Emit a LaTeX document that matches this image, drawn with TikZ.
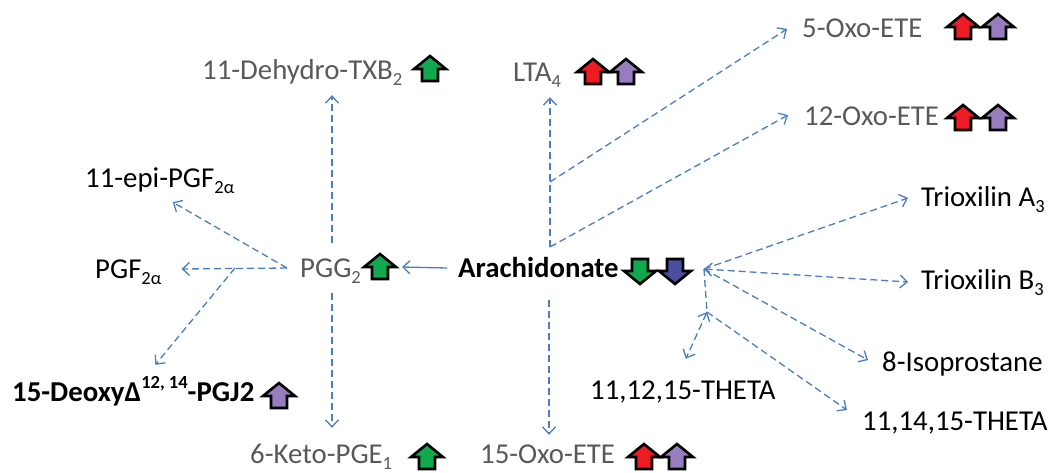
\documentclass[tikz,border=0pt]{standalone}
\usepackage{fontspec}
\setmainfont{Carlito}
\usepackage{tikz}
\usetikzlibrary{arrows.meta,calc}

\definecolor{linkblue}{RGB}{74,126,193}
\definecolor{txtgray}{RGB}{89,89,89}
\definecolor{upred}{RGB}{237,28,36}
\definecolor{uppurple}{RGB}{151,125,189}
\definecolor{upgreen}{RGB}{17,168,78}
\definecolor{downblue}{RGB}{75,78,158}

\newcommand{\fs}{\fontsize{28.8}{32}\selectfont}
\newcommand{\sbs}[1]{\raisebox{-0.22em}{\fontsize{18.5}{18.5}\selectfont #1}}
\newcommand{\sps}[1]{\raisebox{0.45em}{\fontsize{18.5}{18.5}\selectfont #1}}

\tikzset{
  lbl/.style={anchor=west,inner sep=0pt,text height=18pt,text depth=0pt,font=\fs},
  glbl/.style={lbl,text=txtgray},
  link/.style={draw=linkblue,line width=1.3pt,dash pattern=on 7pt off 4pt},
  flow/.style={link,-{Straight Barb[length=7pt,width=13pt]}},
  both/.style={link,{Straight Barb[length=7pt,width=13pt]}-{Straight Barb[length=7pt,width=13pt]}},
  feed/.style={draw=linkblue,line width=1.3pt,-{Straight Barb[length=7pt,width=13pt]}},
  icon/.style={draw=black,line width=2.6pt,line join=miter},
  upicon/.pic={\draw[icon,fill=#1] (-8,12) -- (8,12) -- (8,0) -- (16,0) -- (0,-13) -- (-16,0) -- (-8,0) -- cycle;},
  downicon/.pic={\draw[icon,fill=#1] (-8,-12) -- (8,-12) -- (8,0) -- (16,0) -- (0,13) -- (-16,0) -- (-8,0) -- cycle;}
}

\begin{document}
\begin{tikzpicture}[x=1pt,y=-1pt]
    \useasboundingbox (0,0) rectangle (1050,472);
    \node at (458,268) [lbl,font=\fs\bfseries] (ara) {Arachidonate};
    \node at (300,268) [glbl] (pgg) {PGG\sbs{2}};
    \node at (95,269) [lbl] (pgf) {PGF\sbs{2α}};
    \node at (85,178) [lbl] (epi) {11-epi-PGF\sbs{2α}};
    \node at (12,392) [lbl,font=\fs\bfseries] (deoxy) {15-DeoxyΔ\sps{12, 14}-PGJ2};
    \node at (202,70) [glbl] (txb) {11-Dehydro-TXB\sbs{2}};
    \node at (250,454) [glbl] (keto) {6-Keto-PGE\sbs{1}};
    \node at (513,72) [glbl] (lta) {LTA\sbs{4}};
    \node at (802,28) [glbl] (oxofive) {5-Oxo-ETE};
    \node at (804,116) [glbl] (oxotwelve) {12-Oxo-ETE};
    \node at (480,454) [glbl] (oxofifteen) {15-Oxo-ETE};
    \node at (921,197) [lbl] (trioxa) {Trioxilin A\sbs{3}};
    \node at (921,280) [lbl] (trioxb) {Trioxilin B\sbs{3}};
    \node at (882,362) [lbl] (iso) {8-Isoprostane};
    \node at (590,390) [lbl] (thetaa) {11,12,15-THETA};
    \node at (862,421) [lbl] (thetab) {11,14,15-THETA};

    \coordinate (pggup) at (380,267);
    \coordinate (pggc) at (332,268);
    \coordinate (pggl) at (287,268);
    \coordinate (fork) at (235,268);
    \coordinate (hubu) at (550,247);
    \coordinate (hubm) at (550,182);
    \coordinate (hubd) at (549,300);
    \coordinate (hubr) at (704,269);
    \coordinate (hubrb) at (707,312);

    \pic at (963,27) {upicon=upred};
    \pic at (998,27) {upicon=uppurple};
    \pic at (963,118) {upicon=upred};
    \pic at (998,118) {upicon=uppurple};
    \pic at (593,72) {upicon=upred};
    \pic at (626,72) {upicon=uppurple};
    \pic at (430,69) {upicon=upgreen};
    \pic at (pggup) {upicon=upgreen};
    \pic at (640,271) {downicon=upgreen};
    \pic at (675,271) {downicon=downblue};
    \pic at (279,396) {upicon=uppurple};
    \pic at (427,457) {upicon=upgreen};
    \pic at (644,457) {upicon=upred};
    \pic at (677,457) {upicon=uppurple};

    \draw[feed] ($(ara.west)+(-11,0)$) -- ($(pggup)+(22,0)$);
    \draw[flow] (pggl) -- ($(pgf.east)+(20,0)$);
    \draw[flow] (pggl) -- ($(epi.south)+(13,15)$);
    \draw[flow] (fork) -- ($(deoxy.north)+(22,-18)$);
    \draw[flow] ($(pggc)+(0,-25)$) -- ($(pggc|-txb.south)+(0,16)$);
    \draw[flow] ($(pggc)+(0,25)$) -- ($(pggc|-keto.north)+(0,-17)$);
    \draw[flow] (hubu) -- ($(hubu|-lta.south)+(0,16)$);
    \draw[flow] (hubu) -- ($(oxotwelve.west)+(-16,-1)$);
    \draw[flow] (hubm) -- ($(oxofive.west)+(-15,1)$);
    \draw[flow] (hubd) -- ($(hubd|-oxofifteen.north)+(0,-10)$);
    \draw[flow] (hubr) -- ($(trioxa.west)+(-13,1)$);
    \draw[both] (hubr) -- ($(trioxb.west)+(-13,2)$);
    \draw[flow] (hubr) -- ($(iso.west)+(-14,-2)$);
    \draw[link] (hubr) -- (hubrb);
    \draw[both] (hubrb) -- ($(thetaa.north)+(3,-22)$);
    \draw[flow] (hubrb) -- ($(thetab.west)+(-15,-11)$);
\end{tikzpicture}
\end{document}
